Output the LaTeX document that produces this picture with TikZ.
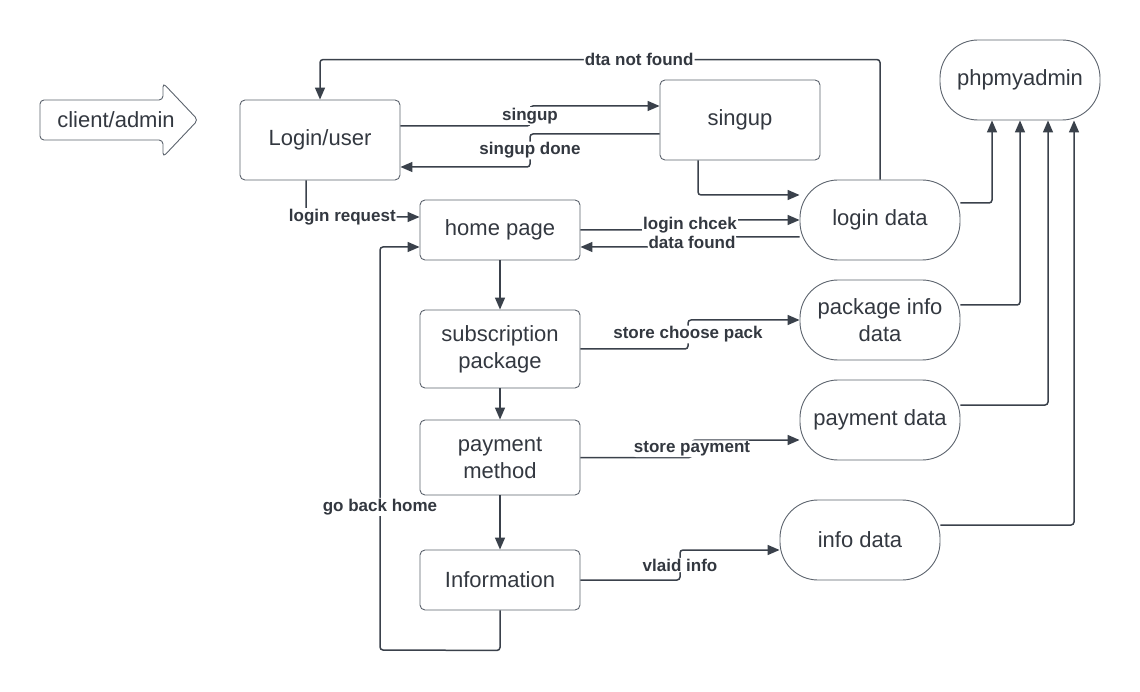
\documentclass[tikz,border=0pt]{standalone}
\usepackage{fontspec}
\setmainfont{Liberation Sans}
\usetikzlibrary{arrows.meta,calc}
\definecolor{edgec}{HTML}{3A414B}
\definecolor{boxc}{HTML}{5C636D}
\definecolor{txtc}{HTML}{333840}

\begin{document}
\begin{tikzpicture}[x=1pt,y=-1pt,
  every node/.style={text=txtc},
  txt/.style={font=\fontsize{22}{27}\selectfont},
  proc/.style={txt,draw=boxc,line width=0.9pt,rounded corners=5pt,minimum width=160pt,inner sep=0pt,align=center},
  store/.style={proc,rounded corners=38pt,minimum height=80pt},
  conn/.style={draw=edgec,line width=1.5pt,rounded corners=3pt,-{Triangle[length=12pt,width=10pt]}},
  lbl/.style={fill=white,inner sep=1pt,font=\fontsize{17}{20}\bfseries\selectfont}]
  \useasboundingbox (0,0) rectangle (1140,692);

  \draw[draw=boxc,line width=0.9pt,rounded corners=4pt] (40,100) -- (163,100) -- (163,83) -- (198,120) -- (163,157) -- (163,140) -- (40,140) -- cycle;
  \node[txt] (client) at (116,120) {client/admin};

  \node[proc,minimum height=80pt] (login) at (320,140) {Login/user};
  \node[proc,minimum height=80pt] (signup) at (740,120) {singup};
  \node[proc,minimum height=60pt] (home) at (500,230) {home page};
  \node[proc,minimum height=78pt] (subs) at (500,349) {subscription\\package};
  \node[proc,minimum height=75pt] (pay) at (500,457.5) {payment\\method};
  \node[proc,minimum height=60pt] (info) at (500,580) {Information};

  \node[store] (logind) at (880,220) {login data};
  \node[store] (packd) at (880,320) {package info\\data};
  \node[store] (payd) at (880,420) {payment data};
  \node[store] (infod) at (860,540) {info data};
  \node[store] (php) at (1020,80) {phpmyadmin};

  \draw[conn] (logind.north) -- ++(0,-120) -| node[lbl,pos=0.215] {dta not found} (login.north);
  \draw[conn] ([yshift=14pt]login.east) -- (530,126) -- node[lbl] {singup} (530,106) -- ([yshift=14pt]signup.west);
  \draw[conn] ([yshift=-14pt]signup.west) -- (530,134) -- node[lbl] {singup done} (530,167) -- ([yshift=-27pt]login.east);
  \draw[conn] ([xshift=-42pt]signup.south) |- ([yshift=25pt]logind.west);
  \draw[conn] ([xshift=-14pt]login.south) |- node[lbl,pos=0.66] {login request} ([yshift=13pt]home.west);
  \draw[conn] (home.east) -- (690,230) -- node[lbl] {login chcek} (690,220) -- (logind.west);
  \draw[conn] ([yshift=-17pt]logind.west) -- (692,237) -- node[lbl] {data found} (692,247) -- ([yshift=-17pt]home.east);

  \draw[conn] (home) -- (subs);
  \draw[conn] (subs) -- (pay);
  \draw[conn] (pay) -- (info);

  \draw[conn] (subs.east) -- (688,349) -- node[lbl] {store choose pack} (688,320) -- (packd.west);
  \draw[conn] (pay.east) -- (692,457.5) -- node[lbl] {store payment} (692,440) -- ([yshift=-20pt]payd.west);
  \draw[conn] (info.east) -- (680,580) -- node[lbl] {vlaid info} (680,550) -- ([yshift=-10pt]infod.west);
  \draw[conn] (info.south) -- ++(0,40) -- (380,650) -- node[lbl,pos=0.355] {go back home} (380,247) -- ([yshift=-17pt]home.west);

  \foreach \n/\dy/\dx in {logind/17/-28,packd/15/0,payd/15/28,infod/15/54}
    \draw[conn] ([yshift=\dy pt]\n.east) -| ([xshift=\dx pt]php.south);
\end{tikzpicture}
\end{document}
